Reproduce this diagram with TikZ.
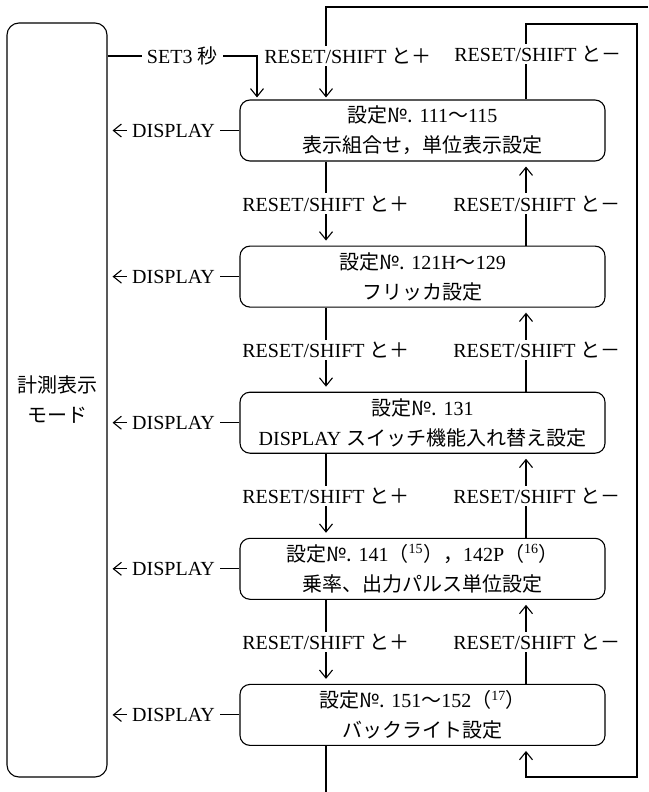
\documentclass[tikz,border=0pt]{standalone}
\usepackage{fontspec}
\setmainfont{Liberation Serif}
\newfontfamily\jpfont{Noto Sans CJK JP}
\newcommand{\ja}[1]{{\jpfont #1}}
\usetikzlibrary{positioning,arrows.meta}

\begin{document}
\begin{tikzpicture}[
  x=1pt, y=-1pt,
  node distance=84pt,
  font=\fontsize{20}{30}\selectfont,
  setbox/.style={draw, rounded corners=10pt, align=center, line width=1.1pt,
                 minimum width=365pt, minimum height=61pt, inner sep=0pt},
  modebox/.style={draw, rounded corners=12pt, align=center, line width=1.1pt,
                  minimum width=100pt, minimum height=754pt},
  lbl/.style={fill=white, inner xsep=5pt, inner ysep=2pt},
  line/.style={line width=1.1pt},
  arrow/.style={line, -{Straight Barb[length=8pt,width=13pt]}, shorten >=5pt}
]
  \useasboundingbox (0,0) rectangle (648,792);

  \node[modebox] (mode) at (57,400) {\ja{計測表示}\\\ja{モード}};

  \node[setbox] (b1) at (422.5,130.5) {\ja{設定№.} 111\ja{～}115\\\ja{表示組合せ，単位表示設定}};
  \node[setbox, below=of b1] (b2) {\ja{設定№.} 121H\ja{～}129\\\ja{フリッカ設定}};
  \node[setbox, below=of b2] (b3) {\ja{設定№.} 131\\DISPLAY \ja{スイッチ機能入れ替え設定}};
  \node[setbox, below=of b3] (b4) {\ja{設定№.} 141\ja{（}\textsuperscript{15}\ja{），}142P\ja{（}\textsuperscript{16}\ja{）}\\\ja{乗率、出力パルス単位設定}};
  \node[setbox, below=of b4] (b5) {\ja{設定№.} 151\ja{～}152\ja{（}\textsuperscript{17}\ja{）}\\\ja{バックライト設定}};

  % connector columns and loop corners
  \coordinate (dn) at (326,0);
  \coordinate (upx) at (526,0);
  \coordinate (setx) at (257,0);
  \coordinate (setrow) at (0,56);
  \coordinate (wrapin) at (648,7);
  \coordinate (wrapout) at (326,792);
  \coordinate (innertop) at (637,24);
  \coordinate (innerbot) at (637,777);

  % entry from the measuring mode
  \draw[arrow, shorten >=2pt] (mode.east |- setrow) -- node[lbl]{SET3 \ja{秒}} (setx |- setrow) -- (b1.north -| setx);
  \draw[arrow, shorten >=2pt] (wrapin) -- (dn |- wrapin) -- node[lbl, pos=0.53, xshift=22pt]{RESET/SHIFT \ja{と＋}} (b1.north -| dn);
  \draw[arrow] (b1.north -| upx) -- node[lbl, pos=0.6, xshift=12pt]{RESET/SHIFT \ja{と－}} (upx |- innertop)
    -- (innertop) -- (innerbot) -- (upx |- innerbot) -- (b5.south -| upx);
  \draw[line] (b5.south -| dn) -- (wrapout);

  % forward steps
  \draw[arrow] (b1.south -| dn) -- node[lbl]{RESET/SHIFT \ja{と＋}} (b2.north -| dn);
  \draw[arrow] (b2.south -| dn) -- node[lbl]{RESET/SHIFT \ja{と＋}} (b3.north -| dn);
  \draw[arrow] (b3.south -| dn) -- node[lbl]{RESET/SHIFT \ja{と＋}} (b4.north -| dn);
  \draw[arrow] (b4.south -| dn) -- node[lbl]{RESET/SHIFT \ja{と＋}} (b5.north -| dn);

  % backward steps
  \draw[arrow] (b2.north -| upx) -- node[lbl, xshift=11pt]{RESET/SHIFT \ja{と－}} (b1.south -| upx);
  \draw[arrow] (b3.north -| upx) -- node[lbl, xshift=11pt]{RESET/SHIFT \ja{と－}} (b2.south -| upx);
  \draw[arrow] (b4.north -| upx) -- node[lbl, xshift=11pt]{RESET/SHIFT \ja{と－}} (b3.south -| upx);
  \draw[arrow] (b5.north -| upx) -- node[lbl, xshift=11pt]{RESET/SHIFT \ja{と－}} (b4.south -| upx);

  % back to the measuring mode
  \draw[arrow] (b1.west) -- node[lbl]{DISPLAY} (b1.west -| mode.east);
  \draw[arrow] (b2.west) -- node[lbl]{DISPLAY} (b2.west -| mode.east);
  \draw[arrow] (b3.west) -- node[lbl]{DISPLAY} (b3.west -| mode.east);
  \draw[arrow] (b4.west) -- node[lbl]{DISPLAY} (b4.west -| mode.east);
  \draw[arrow] (b5.west) -- node[lbl]{DISPLAY} (b5.west -| mode.east);
\end{tikzpicture}
\end{document}
